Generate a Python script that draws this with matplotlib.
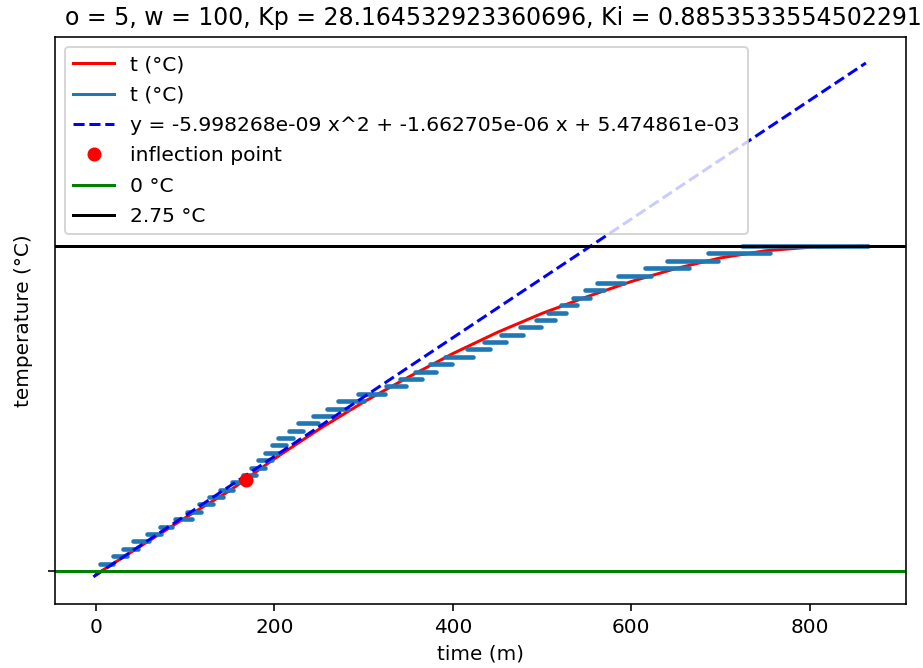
import numpy as np
import matplotlib
matplotlib.use("Agg")
import matplotlib.pyplot as plt
from matplotlib.lines import Line2D

# ---- data ----
title = "o = 5, w = 100, Kp = 28.164532923360696, Ki = 0.8853533554502291"

# smoothed / model temperature curve (red)
model_t = [0, 50, 100, 150, 200, 250, 300, 350, 400, 450, 500, 550, 600,
           650, 700, 750, 800, 865]
model_y = [-0.03, 0.21, 0.45, 0.68, 0.95, 1.20, 1.43, 1.64, 1.84, 2.02,
           2.18, 2.32, 2.45, 2.56, 2.65, 2.71, 2.74, 2.75]

# measured (quantized, 0.0625 °C steps) temperature (blue)
step_level = [0.0625 * k for k in range(1, 45)]
step_start = [4.5, 19.0, 30.3, 41.5, 57.1, 71.7, 88.5, 102.0, 115.4, 126.6,
              138.9, 152.4, 164.7, 173.7, 181.5, 189.4, 197.2, 203.9, 216.2,
              226.3, 243.1, 258.8, 271.1, 293.6, 324.9, 340.6, 357.4, 374.2,
              391.0, 415.7, 434.7, 453.8, 475.1, 493.0, 506.4, 521.0, 534.5,
              547.9, 561.3, 584.9, 615.1, 639.8, 685.7, 723.8]
step_end = [19.0, 34.7, 47.1, 59.4, 72.8, 85.2, 107.6, 117.6, 131.1, 142.3,
            153.5, 164.7, 179.3, 189.4, 197.2, 205.0, 212.9, 220.7, 231.9,
            248.7, 265.5, 282.4, 300.3, 323.8, 347.3, 365.3, 381.0, 398.9,
            422.4, 441.5, 459.4, 478.4, 498.6, 514.3, 526.6, 538.9, 553.6,
            569.2, 591.6, 621.8, 664.4, 696.9, 755.2, 865.0]

# fitted line (dashed)
fit_t = [-3, 863]
fit_y = [-0.05, 4.30]
fit_label = "y = -5.998268e-09 x^2 + -1.662705e-06 x + 5.474861e-03"

# inflection point
infl_t = [168]
infl_y = [0.77]

t_low = 0
t_high = 2.75

# ---- plot ----
fig = plt.figure(figsize=(923 / 144, 668 / 144), dpi=144)
ax = fig.add_axes([55 / 923, 64 / 668, (906 - 55) / 923, (604 - 37) / 668])

ax.plot(model_t, model_y, color="red", lw=1.5)

sx, sy = [], []
for lv, a, b in zip(step_level, step_start, step_end):
    sx += [a, b, np.nan]
    sy += [lv, lv, np.nan]
ax.plot(sx, sy, color="tab:blue", lw=2.3, solid_capstyle="round")

ax.plot(fit_t, fit_y, "b--", lw=1.5)
ax.plot(infl_t, infl_y, "ro")
ax.axhline(t_low, color="green", lw=1.5)
ax.axhline(t_high, color="black", lw=1.5)

handles = [
    Line2D([], [], color="red", lw=1.5),
    Line2D([], [], color="tab:blue", lw=1.5),
    Line2D([], [], color="blue", ls="--", lw=1.5),
    Line2D([], [], color="red", marker="o", ls="none"),
    Line2D([], [], color="green", lw=1.5),
    Line2D([], [], color="black", lw=1.5),
]
labels = ["t (°C)", "t (°C)", fit_label, "inflection point", "0 °C", "2.75 °C"]
ax.legend(handles, labels, loc="upper left", fontsize=10.15, labelspacing=0.56)

ax.set_xlim(-46, 908)
ax.set_ylim(-0.28, 4.52)
ax.set_yticks([0])
ax.set_yticklabels([""])
ax.set_xticks([0, 200, 400, 600, 800])
ax.set_xlabel("time (m)")
ax.set_ylabel("temperature (°C)")
ax.set_title(title, x=0.515, fontsize=11.8)

fig.savefig("out.png", dpi=144)
